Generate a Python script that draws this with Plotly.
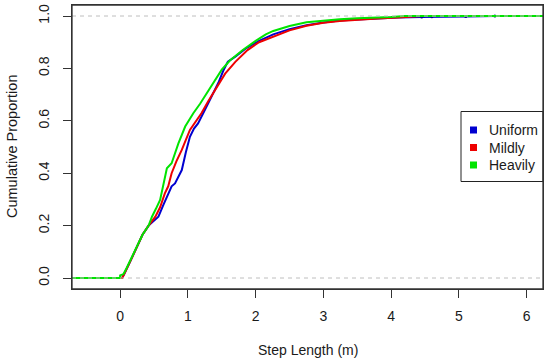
import plotly.graph_objects as go

# ---------------- data ----------------
series_names = ["Uniform", "Mildly", "Heavily"]
series_colors = ["#0000D0", "#EE0000", "#00E400"]

uniform_x = [0.03, 0.06, 0.10, 0.17, 0.25, 0.33, 0.42, 0.50, 0.565, 0.64, 0.71, 0.76, 0.81, 0.86,
             0.91, 0.97, 1.03, 1.09, 1.15, 1.25, 1.35, 1.45, 1.52, 1.59, 1.70, 1.85, 2.05, 2.26,
             2.50, 2.75, 3.00, 3.24, 3.50, 3.80, 4.10, 4.45, 4.60, 5.10, 5.53]
uniform_y = [0.0, 0.015, 0.035, 0.075, 0.12, 0.165, 0.20, 0.22, 0.234, 0.28, 0.323, 0.35, 0.361, 0.385,
             0.412, 0.48, 0.539, 0.57, 0.59, 0.641, 0.69, 0.745, 0.79, 0.826, 0.845, 0.875, 0.905, 0.93,
             0.95, 0.965, 0.975, 0.983, 0.987, 0.991, 0.994, 0.996, 0.997, 0.998, 1.0]
uniform_tail_x = [4.45, 4.60, 5.10, 5.53]
uniform_tail_y = [0.996, 0.997, 0.998, 1.0]

mildly_x = [0.03, 0.06, 0.10, 0.17, 0.25, 0.33, 0.42, 0.52, 0.59, 0.66, 0.71, 0.76, 0.83, 0.91, 1.03,
            1.12, 1.20, 1.30, 1.42, 1.55, 1.70, 1.88, 2.05, 2.26, 2.50, 2.75, 3.00, 3.24, 3.50, 3.80,
            4.10, 4.45]
mildly_y = [0.0, 0.015, 0.035, 0.075, 0.12, 0.165, 0.20, 0.234, 0.27, 0.323, 0.35, 0.40, 0.445, 0.489,
            0.565, 0.60, 0.629, 0.675, 0.725, 0.78, 0.825, 0.87, 0.90, 0.921, 0.945, 0.963, 0.974,
            0.981, 0.986, 0.990, 0.994, 1.0]

heavily_x = [0.00, 0.05, 0.10, 0.17, 0.25, 0.33, 0.42, 0.47, 0.53, 0.59, 0.65, 0.69, 0.76, 0.86, 0.96,
             1.08, 1.18, 1.30, 1.40, 1.50, 1.62, 1.81, 2.00, 2.15, 2.26, 2.50, 2.75, 3.00, 3.24, 3.50,
             3.73, 4.00, 4.20]
heavily_y = [0.01, 0.015, 0.04, 0.08, 0.12, 0.165, 0.20, 0.234, 0.265, 0.298, 0.37, 0.419, 0.438, 0.514,
             0.578, 0.629, 0.665, 0.715, 0.755, 0.795, 0.83, 0.87, 0.905, 0.93, 0.943, 0.962, 0.976,
             0.983, 0.988, 0.991, 0.993, 0.996, 1.0]

x_ticks = [0, 1, 2, 3, 4, 5, 6]
y_ticks = [0.0, 0.2, 0.4, 0.6, 0.8, 1.0]
y_tick_labels = ["0.0", "0.2", "0.4", "0.6", "0.8", "1.0"]
x_title = "Step Length (m)"
y_title = "Cumulative Proportion"

# ---------------- layout constants ----------------
W, H = 550, 364
ML, MR, MT, MB = 72, 7, 5, 75
X_RANGE = [-0.71, 6.24]
Y_RANGE = [-0.042, 1.042]
FONT = "Liberation Sans, Arial, sans-serif"
TXT = "#1a1a1a"
FRAME = "#333333"
PW, PH = W - ML - MR, H - MT - MB


def px_x(p):
    return (p - ML) / PW


def px_y(p):
    return (H - MB - p) / PH


fig = go.Figure()

all_x = [uniform_x, mildly_x, heavily_x]
all_y = [uniform_y, mildly_y, heavily_y]
for name, col, xs, ys in zip(series_names, series_colors, all_x, all_y):
    ex = [X_RANGE[0], xs[0]] + xs + [X_RANGE[1]]
    ey = [0.0, 0.0] + ys + [1.0]
    fig.add_trace(go.Scatter(x=ex, y=ey, mode="lines", name=name,
                             line=dict(color=col, width=2), showlegend=False,
                             hoverinfo="skip"))
    if name == "Uniform":
        fig.add_trace(go.Scatter(x=uniform_tail_x, y=uniform_tail_y, mode="markers",
                                 marker=dict(color="#000088", size=3), showlegend=False,
                                 hoverinfo="skip"))

shapes = []
for yv in [0.0, 1.0]:
    shapes.append(dict(type="line", xref="paper", yref="y", x0=0, x1=1, y0=yv, y1=yv,
                       line=dict(color="#BEBEBE", width=1, dash="4px,4px"), layer="above"))

# legend (R style box)
shapes.append(dict(type="rect", xref="paper", yref="paper",
                   x0=px_x(461), x1=1.0, y0=px_y(181.5), y1=px_y(111.5),
                   line=dict(color="#222222", width=1), fillcolor="white", layer="above"))
annotations = []
rows = [130, 147.5, 165]
for name, col, ry in zip(series_names, series_colors, rows):
    shapes.append(dict(type="rect", xref="paper", yref="paper",
                       x0=px_x(470), x1=px_x(477), y0=px_y(ry + 3.5), y1=px_y(ry - 3.5),
                       line=dict(width=0), fillcolor=col, layer="above"))
    annotations.append(dict(text=name, xref="paper", yref="paper", x=px_x(487), y=px_y(ry),
                            xanchor="left", yanchor="middle", showarrow=False,
                            font=dict(family=FONT, size=14, color=TXT)))

# plot frame (R box)
shapes.append(dict(type="rect", xref="paper", yref="paper", x0=0, x1=1, y0=0, y1=1,
                   line=dict(color=FRAME, width=1.3), fillcolor="rgba(0,0,0,0)", layer="above"))

annotations.append(dict(text=x_title, xref="paper", yref="paper", x=0.5, y=px_y(350),
                        xanchor="center", yanchor="middle", showarrow=False,
                        font=dict(family=FONT, size=14, color=TXT)))
annotations.append(dict(text=y_title, xref="paper", yref="paper", x=px_x(12), y=0.5,
                        xanchor="center", yanchor="middle", showarrow=False, textangle=-90,
                        font=dict(family=FONT, size=14.5, color=TXT)))

fig.update_layout(
    width=W, height=H,
    margin=dict(l=ML, r=MR, t=MT, b=MB, pad=0),
    paper_bgcolor="white", plot_bgcolor="white",
    font=dict(family=FONT, size=14, color=TXT),
    shapes=shapes, annotations=annotations, showlegend=False,
)
fig.update_xaxes(range=X_RANGE, tickvals=x_ticks, ticktext=[str(v) for v in x_ticks],
                 showgrid=False, zeroline=False, showline=True, mirror=True,
                 linecolor=FRAME, linewidth=1.3, ticks="outside", ticklen=8,
                 tickcolor=FRAME, tickwidth=1.3, ticklabelstandoff=6,
                 tickfont=dict(family=FONT, size=14, color=TXT))
fig.update_yaxes(range=Y_RANGE, tickvals=y_ticks, ticktext=y_tick_labels, tickangle=-90,
                 showgrid=False, zeroline=False, showline=True, mirror=True,
                 linecolor=FRAME, linewidth=1.3, ticks="outside", ticklen=8,
                 tickcolor=FRAME, tickwidth=1.3, ticklabelstandoff=8,
                 tickfont=dict(family=FONT, size=14, color=TXT))

fig.write_html("out.html", config={"displayModeBar": False},
               post_script="document.body.style.margin='0';document.body.style.overflow='hidden';")
